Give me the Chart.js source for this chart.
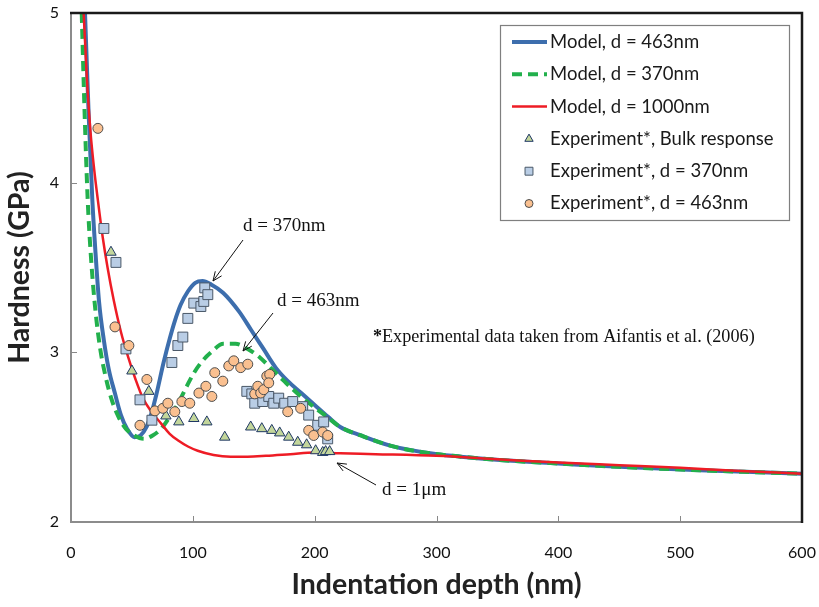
<!DOCTYPE html>
<html>
<head>
<meta charset="utf-8">
<script src="https://cdn.jsdelivr.net/npm/chart.js@4.4.1/dist/chart.umd.min.js"></script>
<style>
  body { margin: 0; background: #fff; }
</style>
</head>
<body>
<canvas id="hardnessChart" width="819" height="607"></canvas>
<script>
// model curves, [depth nm, hardness GPa]
const model463 = [[11.5,5.0],[14.5,4.4],[17.5,3.9],[20,3.6],[23,3.3],[27,3.07],[31,2.9],[36,2.76],[41,2.63],[46,2.55],[52,2.50],[57,2.51],[62,2.56],[66,2.64],[70,2.75],[76,2.94],[81,3.08],[85,3.18],[90,3.28],[96,3.36],[102,3.41],[108,3.42],[115,3.40],[125,3.35],[138,3.24],[148,3.13],[158,3.02],[168,2.91],[178,2.83],[189,2.76],[200,2.69],[211,2.62],[221,2.56],[238,2.51],[262,2.45],[290,2.41],[320,2.385],[352,2.365],[400,2.345],[450,2.325],[516,2.305],[600,2.285]];
const model370 = [[8.8,5.0],[11,4.45],[13.7,3.9],[16.5,3.55],[20,3.25],[24,3.02],[28,2.87],[33,2.73],[39,2.62],[45,2.55],[52,2.51],[60,2.49],[67,2.51],[74,2.55],[81,2.62],[88,2.70],[95,2.80],[101,2.88],[108,2.95],[115,3.0],[125,3.05],[135,3.05],[145,3.02],[155,2.97],[165,2.90],[175,2.83],[187,2.75],[199,2.68],[210,2.62],[221,2.56],[238,2.51],[262,2.45],[290,2.41],[320,2.385],[352,2.365],[400,2.345],[450,2.325],[516,2.305],[600,2.285]];
const model1000 = [[10.4,5.0],[13,4.62],[16,4.3],[19,4.08],[22,3.9],[26,3.68],[30,3.5],[35,3.31],[41,3.12],[47,2.97],[53,2.84],[59,2.73],[66,2.65],[74,2.58],[81,2.52],[88,2.48],[96,2.445],[104,2.42],[117,2.395],[131,2.385],[145,2.385],[160,2.39],[180,2.40],[200,2.41],[221,2.405],[250,2.40],[300,2.39],[350,2.37],[400,2.35],[450,2.335],[500,2.32],[550,2.30],[600,2.285]];

// experiments (Aifantis et al. 2006)
const expBulk = [[32.8,3.59],[50,2.89],[63.9,2.77],[77.9,2.625],[88.5,2.59],[100.8,2.61],[111.5,2.59],[126.2,2.50],[147.5,2.56],[156.6,2.55],[164.8,2.54],[171.3,2.525],[178.7,2.50],[186.1,2.47],[193.4,2.455],[200.8,2.42],[206.6,2.41],[209,2.415],[212.3,2.415]];
const exp370 = [[27,3.73],[36.9,3.53],[45.1,3.02],[56.6,2.72],[66.4,2.60],[82.8,2.94],[87.7,3.04],[91.8,3.09],[95.9,3.20],[100.8,3.29],[106.6,3.27],[109,3.30],[109.8,3.38],[112.3,3.34],[144.3,2.77],[148.4,2.755],[150.8,2.70],[157.4,2.71],[162.3,2.74],[166.4,2.70],[170.5,2.73],[175.4,2.70],[182,2.71],[190.2,2.68],[195.1,2.63],[202.5,2.57],[207.4,2.59],[210.7,2.49]];
const exp463 = [[22.1,4.32],[36.1,3.15],[47.5,3.04],[62.3,2.84],[56.6,2.57],[68.9,2.655],[75.4,2.67],[79.5,2.70],[85.2,2.65],[91,2.71],[97.5,2.70],[105,2.76],[110.7,2.80],[115.6,2.74],[118,2.88],[124.6,2.83],[129.5,2.92],[133.6,2.95],[139.3,2.91],[145.1,2.93],[150.8,2.755],[153.3,2.80],[155.7,2.76],[158.2,2.78],[160.7,2.86],[163.1,2.87],[162.3,2.82],[177.9,2.65],[188.5,2.67],[195.1,2.54],[199.2,2.51],[206.6,2.53],[210.7,2.51]];

const xTicks = [0, 100, 200, 300, 400, 500, 600];
const yTicks = [2, 3, 4, 5];
const seriesNames = ['Model, d = 463nm', 'Model, d = 370nm', 'Model, d = 1000nm',
  'Experiment*, Bulk response', 'Experiment*, d = 370nm', 'Experiment*, d = 463nm'];

const pts = arr => arr.map(p => ({ x: p[0], y: p[1] }));

function arrow(ctx, x1, y1, x2, y2) {
  const a = Math.atan2(y2 - y1, x2 - x1);
  ctx.beginPath();
  ctx.moveTo(x1, y1);
  ctx.lineTo(x2, y2);
  ctx.moveTo(x2 - 10 * Math.cos(a - 0.4), y2 - 10 * Math.sin(a - 0.4));
  ctx.lineTo(x2, y2);
  ctx.lineTo(x2 - 10 * Math.cos(a + 0.4), y2 - 10 * Math.sin(a + 0.4));
  ctx.stroke();
}

// no extra room for edge tick labels, chart area is fixed by layout padding
const noPad = s => { s.paddingLeft = s.paddingRight = s.paddingTop = s.paddingBottom = 0; };

const extras = {
  id: 'extras',
  afterDraw(chart) {
    const ctx = chart.ctx;
    const { left, right, top, bottom } = chart.chartArea;
    const xs = chart.scales.x, ys = chart.scales.y;
    ctx.save();
    // frame top/right
    ctx.strokeStyle = '#1a1a1a';
    ctx.lineWidth = 2.5;
    ctx.beginPath();
    ctx.moveTo(left - 1, top);
    ctx.lineTo(right, top);
    ctx.lineTo(right, bottom + 1);
    ctx.stroke();
    // inner ticks
    ctx.strokeStyle = '#888';
    ctx.lineWidth = 1;
    xTicks.slice(1, -1).forEach(v => {
      const px = Math.round(xs.getPixelForValue(v)) + 0.5;
      ctx.beginPath(); ctx.moveTo(px, bottom); ctx.lineTo(px, bottom - 6); ctx.stroke();
    });
    yTicks.slice(1, -1).forEach(v => {
      const py = Math.round(ys.getPixelForValue(v)) + 0.5;
      ctx.beginPath(); ctx.moveTo(left, py); ctx.lineTo(left + 6, py); ctx.stroke();
    });

    // annotations
    ctx.fillStyle = '#111';
    ctx.strokeStyle = '#111';
    ctx.lineWidth = 1;
    ctx.font = '19px "Liberation Serif"';
    ctx.textBaseline = 'middle';
    ctx.fillText('d = 370nm', 243, 226);
    arrow(ctx, 243, 240, 213, 281);
    ctx.fillText('d = 463nm', 277, 301);
    arrow(ctx, 273, 313, 243, 351);
    ctx.fillText('d = 1\u03bcm', 382, 490);
    arrow(ctx, 376, 485, 337, 463);
    ctx.font = 'bold 18px "Liberation Serif"';
    ctx.fillText('*', 373, 337);
    const sw = ctx.measureText('*').width;
    ctx.font = '18.2px "Liberation Serif"';
    ctx.fillText('Experimental data taken from Aifantis et al. (2006)', 373 + sw, 337);

    // legend
    const lx = 500, ly = 25, lw = 289, lh = 195;
    ctx.fillStyle = '#fff';
    ctx.fillRect(lx, ly, lw, lh);
    ctx.strokeStyle = '#7f7f7f';
    ctx.lineWidth = 1.2;
    ctx.strokeRect(lx + 0.5, ly + 0.5, lw, lh);
    ctx.font = '18.5px Lato';
    ctx.textBaseline = 'middle';
    chart.data.datasets.forEach((ds, i) => {
      const y = ly + 17 + i * 32.3;
      if (ds.showLine) {
        ctx.save();
        ctx.strokeStyle = ds.borderColor;
        ctx.lineWidth = ds.borderWidth;
        ctx.setLineDash(ds.borderDash || []);
        ctx.beginPath(); ctx.moveTo(512, y); ctx.lineTo(547, y); ctx.stroke();
        ctx.restore();
      } else {
        ctx.save();
        ctx.fillStyle = ds.backgroundColor;
        ctx.strokeStyle = ds.borderColor;
        ctx.lineWidth = 1;
        Chart.helpers.drawPoint(ctx, { pointStyle: ds.pointStyle, radius: ds.pointRadius * 0.8, borderWidth: 1, rotation: 0 }, 529, y);
        ctx.restore();
      }
      ctx.fillStyle = '#1a1a1a';
      ctx.fillText(seriesNames[i], 550, y);
    });
    ctx.restore();
  }
};

const lineDs = (i, data, color, width, dash, order) => ({
  label: seriesNames[i], data: pts(data), showLine: true, borderColor: color,
  borderWidth: width, borderDash: dash, pointRadius: 0, fill: false,
  cubicInterpolationMode: 'monotone', order: order
});
const markDs = (i, data, style, fill, edge, r, order) => ({
  label: seriesNames[i], data: pts(data), showLine: false, pointStyle: style,
  backgroundColor: fill, borderColor: edge, pointBorderWidth: 1, borderWidth: 1,
  pointRadius: r, order: order
});

new Chart(document.getElementById('hardnessChart'), {
  type: 'scatter',
  data: {
    datasets: [
      lineDs(0, model463, '#3d6ead', 4, [], 6),
      lineDs(1, model370, '#22b04c', 4, [10, 6], 5),
      lineDs(2, model1000, '#ee1c25', 2.5, [], 4),
      markDs(3, expBulk, 'triangle', '#c3d69b', '#1f3864', 6, 3),
      markDs(4, exp370, 'rect', '#b9cde5', '#4a5868', 7, 2),
      markDs(5, exp463, 'circle', '#fac090', '#4d4d4d', 5, 1)
    ]
  },
  options: {
    responsive: false,
    animation: false,
    layout: { padding: { top: 13, right: 17, left: 0, bottom: 0 } },
    plugins: { legend: { display: false }, tooltip: { enabled: false } },
    scales: {
      x: {
        type: 'linear', min: 0, max: 600,
        afterFit: s => { s.height = 85; noPad(s); },
        afterBuildTicks: s => { s.ticks = xTicks.map(v => ({ value: v })); },
        grid: { display: false, drawTicks: false },
        border: { color: '#8c8c8c', width: 2 },
        ticks: { padding: 21, color: '#111', font: { family: 'Lato', size: 16 }, maxRotation: 0 },
        title: { display: true, text: 'Indentation depth (nm)', color: '#222',
          font: { family: 'Lato', size: 28.5, weight: 'bold' }, padding: { top: 0, bottom: 5 } }
      },
      y: {
        type: 'linear', min: 2, max: 5,
        afterFit: s => { s.width = 71; noPad(s); },
        afterBuildTicks: s => { s.ticks = yTicks.map(v => ({ value: v })); },
        grid: { display: false, drawTicks: false },
        border: { color: '#8c8c8c', width: 2 },
        ticks: { padding: 12, color: '#111', font: { family: 'Lato', size: 16 } },
        title: { display: true, text: 'Hardness (GPa)', color: '#222',
          font: { family: 'Lato', size: 28.5, weight: 'bold' }, padding: { top: 3, bottom: 0 } }
      }
    }
  },
  plugins: [extras]
});
</script>
</body>
</html>
